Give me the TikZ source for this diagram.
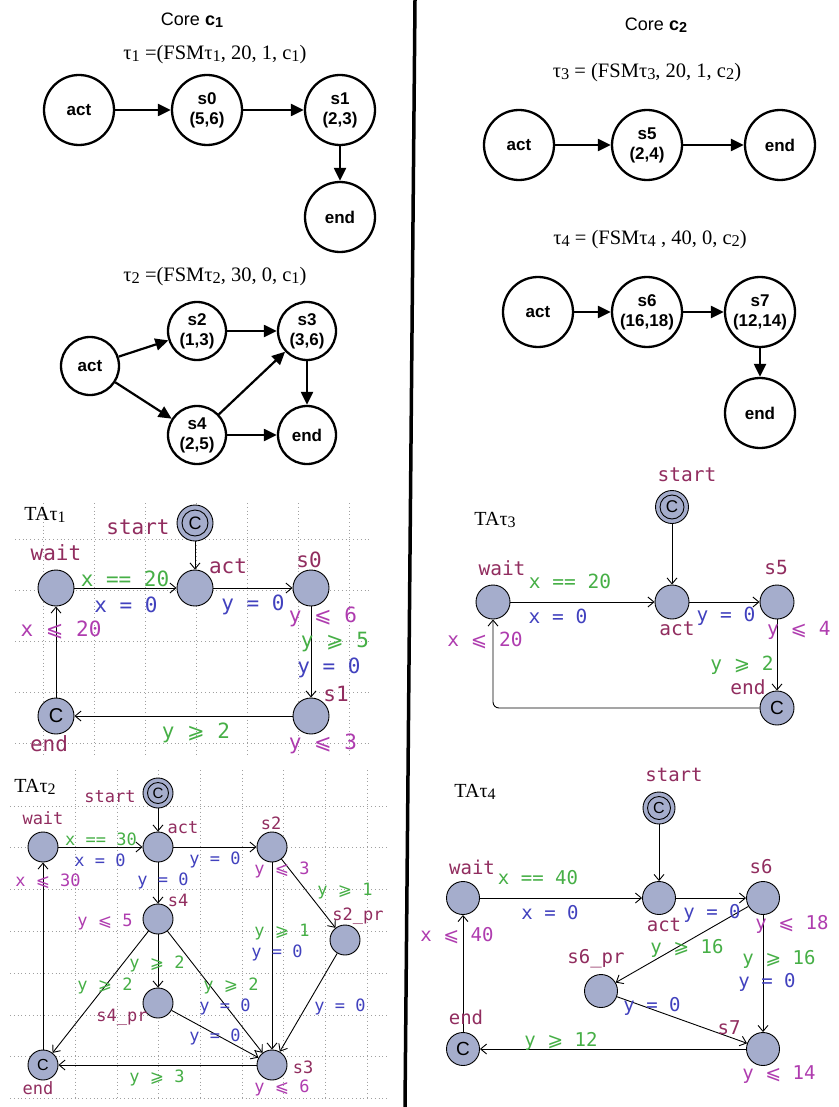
\documentclass[tikz,border=0pt]{standalone}
\usepackage{fontspec}
\setmainfont{Liberation Serif}
\newfontfamily\hel{Liberation Sans}
\newfontfamily\mono{DejaVu Sans Mono}
\newfontfamily\symf{DejaVu Sans}
\usetikzlibrary{arrows.meta}
\definecolor{nmc}{RGB}{145,45,95}
\definecolor{invc}{RGB}{175,60,175}
\definecolor{grdc}{RGB}{70,175,70}
\definecolor{asgc}{RGB}{65,65,190}
\definecolor{locc}{RGB}{165,173,204}
\definecolor{gridc}{RGB}{160,160,160}
\newcommand\sdg[1]{\raisebox{-0.22ex}{\scalebox{0.8}{#1}}}
\newcommand\LEQ{{\symf ⩽}}
\newcommand\GEQ{{\symf ⩾}}
\begin{document}
\begin{tikzpicture}[x=1pt,y=-1pt,
  fsm/.style={circle,draw,line width=2.3pt,minimum size=70pt,inner sep=0pt,align=center,font=\hel\bfseries\fontsize{17}{20}\selectfont},
  fsms/.style={fsm,minimum size=58pt},
  farr/.style={line width=2.2pt,-{Triangle[length=13pt,width=12pt]}},
  locn/.style={circle,draw,line width=0.9pt,fill=locc,inner sep=0pt},
  tarr/.style={line width=0.9pt,-{Straight Barb[length=6pt,width=10pt,line width=0.9pt]}},
  lbl/.style={inner sep=0pt},
  nm/.style={lbl,text=nmc}, iv/.style={lbl,text=invc}, gd/.style={lbl,text=grdc}, asg/.style={lbl,text=asgc},
  gridl/.style={gridc,line width=0.6pt,dash pattern=on 0.8pt off 3pt},
  ttl/.style={inner sep=0pt,font=\fontsize{20.5}{20.5}\selectfont},
  tattl/.style={inner sep=0pt,font=\fontsize{20}{20}\selectfont}
]
\useasboundingbox (0,0) rectangle (838,1107);
\fill[white] (0,0) rectangle (838,1107);

% separator
\draw[line width=3.5pt] (415,0) -- (405,1107);

% ---------- Core c1 ----------
\node[inner sep=0pt,font=\hel\fontsize{18}{18}\selectfont] (core1) at (192,20) {Core \textbf{c\sdg{1}}};
\node[ttl] (tau1) at (215,55) {τ\sdg{1} =(FSMτ\sdg{1}, 20, 1, c\sdg{1})};
\node[fsm] (fa1) at (79,110) {act};
\node[fsm] (fs0) at (207,110) {s0\\(5,6)};
\node[fsm] (fs1) at (340,110) {s1\\(2,3)};
\node[fsm] (fe1) at (340,217) {end};
\draw[farr] (fa1) -- (fs0);
\draw[farr] (fs0) -- (fs1);
\draw[farr] (fs1) -- (fe1);

\node[ttl] (tau2) at (215,277) {τ\sdg{2} =(FSMτ\sdg{2}, 30, 0, c\sdg{1})};
\node[fsms] (fa2) at (90,366) {act};
\node[fsms] (fs2) at (197,331) {s2\\(1,3)};
\node[fsms] (fs3) at (307,331) {s3\\(3,6)};
\node[fsms] (fs4) at (197,435) {s4\\(2,5)};
\node[fsms] (fe2) at (307,435) {end};
\draw[farr] (fa2) -- (fs2);
\draw[farr] (fa2) -- (fs4);
\draw[farr] (fs2) -- (fs3);
\draw[farr] (fs4) -- (fs3);
\draw[farr] (fs3) -- (fe2);
\draw[farr] (fs4) -- (fe2);

% ---------- Core c2 ----------
\node[inner sep=0pt,font=\hel\fontsize{18}{18}\selectfont] (core2) at (656,25) {Core \textbf{c\sdg{2}}};
\node[ttl] (tau3) at (647,73) {τ\sdg{3} = (FSMτ\sdg{3}, 20, 1, c\sdg{2})};
\node[fsm] (fa3) at (519,145) {act};
\node[fsm] (fs5) at (647,145) {s5\\(2,4)};
\node[fsm] (fe3) at (780,145) {end};
\draw[farr] (fa3) -- (fs5);
\draw[farr] (fs5) -- (fe3);

\node[ttl] (tau4) at (650,240) {τ\sdg{4} = (FSMτ\sdg{4} , 40, 0, c\sdg{2})};
\node[fsm] (fa4) at (538,312) {act};
\node[fsm] (fs6) at (647,312) {s6\\(16,18)};
\node[fsm] (fs7) at (760,312) {s7\\(12,14)};
\node[fsm] (fe4) at (760,413) {end};
\draw[farr] (fa4) -- (fs6);
\draw[farr] (fs6) -- (fs7);
\draw[farr] (fs7) -- (fe4);

% ---------- TA tau1 ----------
\foreach \y in {539,590,641,692,743} \draw[gridl] (15,\y) -- (372,\y);
\foreach \x in {43,94,145,196,247,298,349} \draw[gridl] (\x,503) -- (\x,755);
\node[tattl] (taA) at (45,515) {TAτ\sdg{1}};
\begin{scope}[every node/.append style={font=\mono\fontsize{21}{21}\selectfont}]
\node[locn,minimum size=36pt] (stA) at (195,523) {};
\node[circle,draw,line width=0.9pt,minimum size=26pt,inner sep=0pt,font=\hel\fontsize{18}{18}\selectfont] (stAc) at (stA.center) {C};
\node[locn,minimum size=36pt] (waitA) at (56,588) {};
\node[locn,minimum size=36pt] (actA) at (195,588) {};
\node[locn,minimum size=36pt] (s0A) at (311,588) {};
\node[locn,minimum size=36pt] (s1A) at (311,716) {};
\node[locn,minimum size=36pt,font=\hel\fontsize{20}{20}\selectfont] (endA) at (56,716) {C};
\draw[tarr] (stA) -- (actA);
\draw[tarr] (waitA) -- (actA);
\draw[tarr] (actA) -- (s0A);
\draw[tarr] (s0A) -- (s1A);
\draw[tarr] (s1A) -- (endA);
\draw[tarr] (endA) -- (waitA);
\node[nm] (nA1) at (138,527) {start};
\node[nm] (nA2) at (56,553) {wait};
\node[nm] (nA3) at (228,566) {act};
\node[nm] (nA4) at (309,560) {s0};
\node[nm] (nA5) at (336,694) {s1};
\node[nm] (nA6) at (49,744) {end};
\node[gd] (gA1) at (125,579) {x == 20};
\node[asg] (aA1) at (126,605) {x = 0};
\node[asg] (aA2) at (253,605) {y = 0};
\node[iv] (iA1) at (323,617) {y \LEQ{} 6};
\node[gd] (gA2) at (335,642) {y \GEQ{} 5};
\node[asg] (aA3) at (329,668) {y = 0};
\node[iv] (iA2) at (323,744) {y \LEQ{} 3};
\node[gd] (gA3) at (196,733) {y \GEQ{} 2};
\node[iv] (iA3) at (61,630) {x \LEQ{} 20};
\end{scope}

% ---------- TA tau2 ----------
\foreach \y in {806,847,889,931,973,1015,1056,1098} \draw[gridl] (10,\y) -- (387,\y);
\foreach \x in {75,117,158,200,242,283,325,367} \draw[gridl] (\x,770) -- (\x,1098);
\node[tattl] (taB) at (35,787) {TAτ\sdg{2}};
\begin{scope}[every node/.append style={font=\mono\fontsize{17}{17}\selectfont}]
\node[locn,minimum size=30pt] (stB) at (158,793) {};
\node[circle,draw,line width=0.9pt,minimum size=21pt,inner sep=0pt,font=\hel\fontsize{15}{15}\selectfont] (stBc) at (stB.center) {C};
\node[locn,minimum size=30pt] (waitB) at (43,847) {};
\node[locn,minimum size=30pt] (actB) at (158,847) {};
\node[locn,minimum size=30pt] (s2B) at (272,847) {};
\node[locn,minimum size=30pt] (s4B) at (158,919) {};
\node[locn,minimum size=30pt] (s2pB) at (345,940) {};
\node[locn,minimum size=30pt] (s4pB) at (158,1003) {};
\node[locn,minimum size=30pt,font=\hel\fontsize{16}{16}\selectfont] (endB) at (43,1065) {C};
\node[locn,minimum size=30pt] (s3B) at (272,1065) {};
\draw[tarr] (stB) -- (actB);
\draw[tarr] (waitB) -- (actB);
\draw[tarr] (actB) -- (s2B);
\draw[tarr] (actB) -- (s4B);
\draw[tarr] (s2B) -- (s2pB);
\draw[tarr] (s2B) -- (s3B);
\draw[tarr] (s2pB) -- (s3B);
\draw[tarr] (s4B) -- (s4pB);
\draw[tarr] (s4B) -- (endB);
\draw[tarr] (s4B) -- (s3B);
\draw[tarr] (s4pB) -- (s3B);
\draw[tarr] (s3B) -- (endB);
\draw[tarr] (endB) -- (waitB);
\node[nm] (nB1) at (110,797) {start};
\node[nm] (nB2) at (43,818) {wait};
\node[nm] (nB3) at (183,828) {act};
\node[nm] (nB4) at (271,823) {s2};
\node[nm] (nB5) at (178,900) {s4};
\node[nm] (nB6) at (358,916) {s2\_pr};
\node[nm] (nB7) at (122,1017) {s4\_pr};
\node[nm] (nB8) at (38,1088) {end};
\node[nm] (nB9) at (303,1067) {s3};
\node[iv] (iB1) at (282,1088) {y \LEQ{} 6};
\node[gd] (gB1) at (101,839) {x == 30};
\node[asg] (aB1) at (100,860) {x = 0};
\node[iv] (iB2) at (48,881) {x \LEQ{} 30};
\node[asg] (aB2) at (215,860) {y = 0};
\node[asg] (aB3) at (163,881) {y = 0};
\node[iv] (iB3) at (282,870) {y \LEQ{} 3};
\node[gd] (gB2) at (345,891) {y \GEQ{} 1};
\node[gd] (gB3) at (282,932) {y \GEQ{} 1};
\node[asg] (aB4) at (277,953) {y = 0};
\node[iv] (iB4) at (105,922) {y \LEQ{} 5};
\node[gd] (gB4) at (157,964) {y \GEQ{} 2};
\node[gd] (gB5) at (105,986) {y \GEQ{} 2};
\node[gd] (gB6) at (231,986) {y \GEQ{} 2};
\node[asg] (aB5) at (225,1007) {y = 0};
\node[asg] (aB6) at (215,1037) {y = 0};
\node[asg] (aB7) at (340,1007) {y = 0};
\node[gd] (gB7) at (157,1078) {y \GEQ{} 3};
\end{scope}

% ---------- TA tau3 ----------
\node[tattl] (taC) at (495,520) {TAτ\sdg{3}};
\begin{scope}[every node/.append style={font=\mono\fontsize{19.5}{19.5}\selectfont}]
\node[locn,minimum size=33pt] (stC) at (672,507) {};
\node[circle,draw,line width=0.9pt,minimum size=24pt,inner sep=0pt,font=\hel\fontsize{17}{17}\selectfont] (stCc) at (stC.center) {C};
\node[locn,minimum size=34pt] (waitC) at (493,602) {};
\node[locn,minimum size=34pt] (actC) at (672,602) {};
\node[locn,minimum size=34pt] (s5C) at (777,602) {};
\node[locn,minimum size=34pt,font=\hel\fontsize{19}{19}\selectfont] (endC) at (777,708) {C};
\draw[tarr] (stC) -- (actC);
\draw[tarr] (waitC) -- (actC);
\draw[tarr] (actC) -- (s5C);
\draw[tarr] (s5C) -- (endC);
\draw[tarr,rounded corners=6pt] (endC) -| (waitC);
\node[nm] (nC1) at (687,475) {start};
\node[nm] (nC2) at (502,568) {wait};
\node[nm] (nC3) at (677,629) {act};
\node[nm] (nC4) at (776,568) {s5};
\node[nm] (nC5) at (748,687) {end};
\node[gd] (gC1) at (570,581) {x == 20};
\node[asg] (aC1) at (558,616) {x = 0};
\node[asg] (aC2) at (726,616) {y = 0};
\node[iv] (iC1) at (485,640) {x \LEQ{} 20};
\node[iv,anchor=west] (iC2) at (767,630) {y \LEQ{} 4};
\node[gd] (gC2) at (742,665) {y \GEQ{} 2};
\end{scope}

% ---------- TA tau4 ----------
\node[tattl] (taD) at (475,792) {TAτ\sdg{4}};
\begin{scope}[every node/.append style={font=\mono\fontsize{19}{19}\selectfont}]
\node[locn,minimum size=32pt] (stD) at (659,808) {};
\node[circle,draw,line width=0.9pt,minimum size=23pt,inner sep=0pt,font=\hel\fontsize{16}{16}\selectfont] (stDc) at (stD.center) {C};
\node[locn,minimum size=33pt] (waitD) at (463,898) {};
\node[locn,minimum size=33pt] (actD) at (659,898) {};
\node[locn,minimum size=33pt] (s6D) at (763,898) {};
\node[locn,minimum size=33pt] (s6pD) at (601,991) {};
\node[locn,minimum size=33pt] (s7D) at (763,1049) {};
\node[locn,minimum size=33pt,font=\hel\fontsize{19}{19}\selectfont] (endD) at (463,1049) {C};
\draw[tarr] (stD) -- (actD);
\draw[tarr] (waitD) -- (actD);
\draw[tarr] (actD) -- (s6D);
\draw[tarr] (s6D) -- (s6pD);
\draw[tarr] (s6D) -- (s7D);
\draw[tarr] (s6pD) -- (s7D);
\draw[tarr] (s7D) -- (endD);
\draw[tarr] (endD) -- (waitD);
\node[nm] (nD1) at (674,775) {start};
\node[nm] (nD2) at (472,867) {wait};
\node[nm] (nD3) at (664,925) {act};
\node[nm] (nD4) at (761,867) {s6};
\node[nm] (nD5) at (596,959) {s6\_pr};
\node[nm] (nD6) at (729,1028) {s7};
\node[nm] (nD7) at (466,1017) {end};
\node[gd] (gD1) at (538,878) {x == 40};
\node[asg] (aD1) at (550,913) {x = 0};
\node[asg] (aD2) at (712,913) {y = 0};
\node[iv] (iD1) at (457,936) {x \LEQ{} 40};
\node[iv] (iD2) at (792,924) {y \LEQ{} 18};
\node[gd] (gD2) at (687,948) {y \GEQ{} 16};
\node[gd] (gD3) at (779,959) {y \GEQ{} 16};
\node[asg] (aD3) at (767,982) {y = 0};
\node[asg] (aD4) at (652,1006) {y = 0};
\node[gd] (gD4) at (561,1041) {y \GEQ{} 12};
\node[iv] (iD3) at (779,1075) {y \LEQ{} 14};
\end{scope}
\end{tikzpicture}
\end{document}
